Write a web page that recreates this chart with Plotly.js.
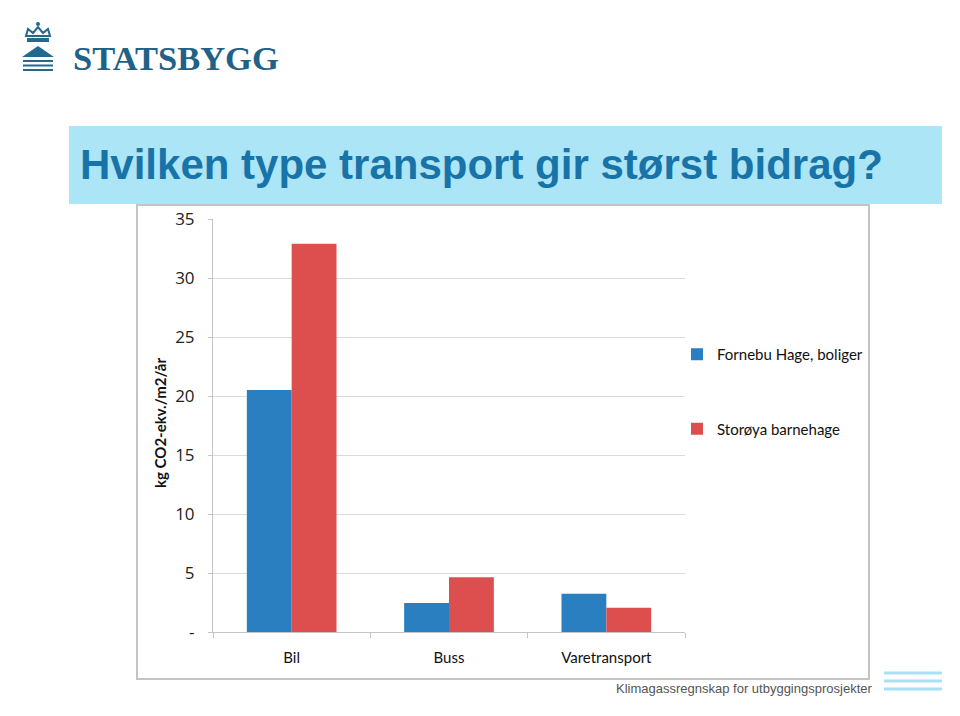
<!DOCTYPE html>
<html>
<head>
<meta charset="utf-8">
<script src="https://cdn.plot.ly/plotly-3.0.1.min.js"></script>
<style>
  html, body { margin: 0; padding: 0; background: #fff; }
  #chart { width: 960px; height: 716px; }
</style>
</head>
<body>
<div id="chart"></div>
<script>
// data
let categories = ["Bil", "Buss", "Varetransport"];
let fornebu = [20.5, 2.45, 3.25];
let storoya = [32.9, 4.65, 2.05];
let seriesNames = ["Fornebu Hage, boliger", "Storøya barnehage"];
let yTicks = [0, 5, 10, 15, 20, 25, 30, 35];
let yTickText = ["-", "5", "10", "15", "20", "25", "30", "35"];

// pixel -> paper helpers
const W = 960, H = 716;
const X = px => px / W;
const Y = py => 1 - py / H;

let traceA = {
    x: categories,
    y: fornebu,
    name: seriesNames[0],
    type: "bar",
    marker: {color: "#2a7fc1"},
    legendgroup: "a",
    hoverinfo: "none"
};

let traceB = {
    x: categories,
    y: storoya,
    name: seriesNames[1],
    type: "bar",
    marker: {color: "#dc4f4e"},
    legendgroup: "b",
    hoverinfo: "none"
};

let lineBlue = "#a9e0f3";
let logoBlue = "#22698f";

let shapes = [
    // title band
    {type: "rect", xref: "paper", yref: "paper", x0: X(69), x1: X(942), y0: Y(204), y1: Y(126),
     fillcolor: "#abe5f6", line: {width: 0}, layer: "below"},
    // chart frame
    {type: "rect", xref: "paper", yref: "paper", x0: X(137), x1: X(869), y0: Y(679), y1: Y(205),
     fillcolor: "rgba(0,0,0,0)", line: {color: "#c4c4c4", width: 2}, layer: "below"},
    // footer lines
    {type: "line", xref: "paper", yref: "paper", x0: X(884), x1: X(942), y0: Y(673), y1: Y(673), line: {color: lineBlue, width: 3}},
    {type: "line", xref: "paper", yref: "paper", x0: X(884), x1: X(942), y0: Y(681), y1: Y(681), line: {color: lineBlue, width: 3}},
    {type: "line", xref: "paper", yref: "paper", x0: X(884), x1: X(942), y0: Y(689), y1: Y(689), line: {color: lineBlue, width: 3}},
    // logo: roof and steps
    {type: "path", xref: "paper", yref: "paper",
     path: "M " + X(22) + "," + Y(57) + " L " + X(38) + "," + Y(46) + " L " + X(54) + "," + Y(57) + " Z",
     fillcolor: logoBlue, line: {width: 0}},
    {type: "line", xref: "paper", yref: "paper", x0: X(23), x1: X(53), y0: Y(61), y1: Y(61), line: {color: logoBlue, width: 2}},
    {type: "line", xref: "paper", yref: "paper", x0: X(23), x1: X(53), y0: Y(65.5), y1: Y(65.5), line: {color: logoBlue, width: 2}},
    {type: "line", xref: "paper", yref: "paper", x0: X(23), x1: X(53), y0: Y(70), y1: Y(70), line: {color: logoBlue, width: 2}},
    // logo: crown
    {type: "rect", xref: "paper", yref: "paper", x0: X(27), x1: X(49), y0: Y(42), y1: Y(38),
     fillcolor: logoBlue, line: {width: 0}},
    {type: "path", xref: "paper", yref: "paper",
     path: "M " + X(26) + "," + Y(36) + " L " + X(28) + "," + Y(29) + " L " + X(33) + "," + Y(33) + " L " + X(38) + "," + Y(27) +
           " L " + X(43) + "," + Y(33) + " L " + X(48) + "," + Y(29) + " L " + X(50) + "," + Y(36) + " Z",
     fillcolor: "rgba(0,0,0,0)", line: {color: logoBlue, width: 2}},
    {type: "circle", xref: "paper", yref: "paper", x0: X(36), x1: X(40), y0: Y(26), y1: Y(22),
     fillcolor: logoBlue, line: {width: 0}}
];

let annotations = [
    {text: "<b>Hvilken type transport gir størst bidrag?</b>", xref: "paper", yref: "paper",
     x: X(78), y: Y(164), xanchor: "left", yanchor: "middle", showarrow: false,
     font: {family: "Liberation Sans, Arial", size: 42, color: "#1874a8"}},
    {text: "<b>STATSBYGG</b>", xref: "paper", yref: "paper",
     x: X(71), y: Y(58), xanchor: "left", yanchor: "middle", showarrow: false,
     font: {family: "Liberation Serif, Times New Roman", size: 34.5, color: "#1f6187"}},
    {text: "<b>kg CO2-ekv./m2/år</b>", xref: "paper", yref: "paper",
     x: X(160), y: Y(423), xanchor: "center", yanchor: "middle", textangle: -90, showarrow: false,
     font: {family: "Lato", size: 15, color: "#111"}},
    {text: "Klimagassregnskap for utbyggingsprosjekter", xref: "paper", yref: "paper",
     x: X(874), y: Y(688), xanchor: "right", yanchor: "middle", showarrow: false,
     font: {family: "Liberation Sans, Arial", size: 13, color: "#555"}}
];

let layout = {
    width: W,
    height: H,
    margin: {l: 0, r: 0, t: 0, b: 0},
    paper_bgcolor: "#ffffff",
    plot_bgcolor: "rgba(0,0,0,0)",
    barmode: "group",
    bargap: 0.43,
    bargroupgap: 0,
    showlegend: true,
    font: {family: "Lato", size: 15, color: "#111"},
    xaxis: {
        domain: [X(213), X(685)],
        showline: true,
        linecolor: "#c4c4c4",
        linewidth: 1,
        ticks: "outside",
        tickson: "boundaries",
        ticklen: 5,
        tickcolor: "#c4c4c4",
        tickfont: {family: "Lato", size: 15, color: "#111"},
        ticklabelstandoff: 12,
        fixedrange: true
    },
    yaxis: {
        domain: [Y(632), Y(219)],
        range: [0, 35],
        tickmode: "array",
        tickvals: yTicks,
        ticktext: yTickText,
        showline: true,
        linecolor: "#c4c4c4",
        linewidth: 1,
        ticks: "outside",
        ticklen: 4,
        tickcolor: "#c4c4c4",
        showgrid: true,
        gridcolor: "#dadada",
        gridwidth: 1,
        zeroline: false,
        tickfont: {family: "Open Sans", size: 17, color: "#222"},
        ticklabelstandoff: 10,
        fixedrange: true
    },
    legend: {
        x: X(677),
        y: Y(338),
        xanchor: "left",
        yanchor: "top",
        traceorder: "grouped",
        tracegroupgap: 52,
        font: {family: "Lato", size: 15, color: "#111"},
        bgcolor: "rgba(0,0,0,0)",
        itemwidth: 30
    },
    shapes: shapes,
    annotations: annotations
};

Plotly.newPlot("chart", [traceA, traceB], layout, {displayModeBar: false, staticPlot: true});
</script>
</body>
</html>
